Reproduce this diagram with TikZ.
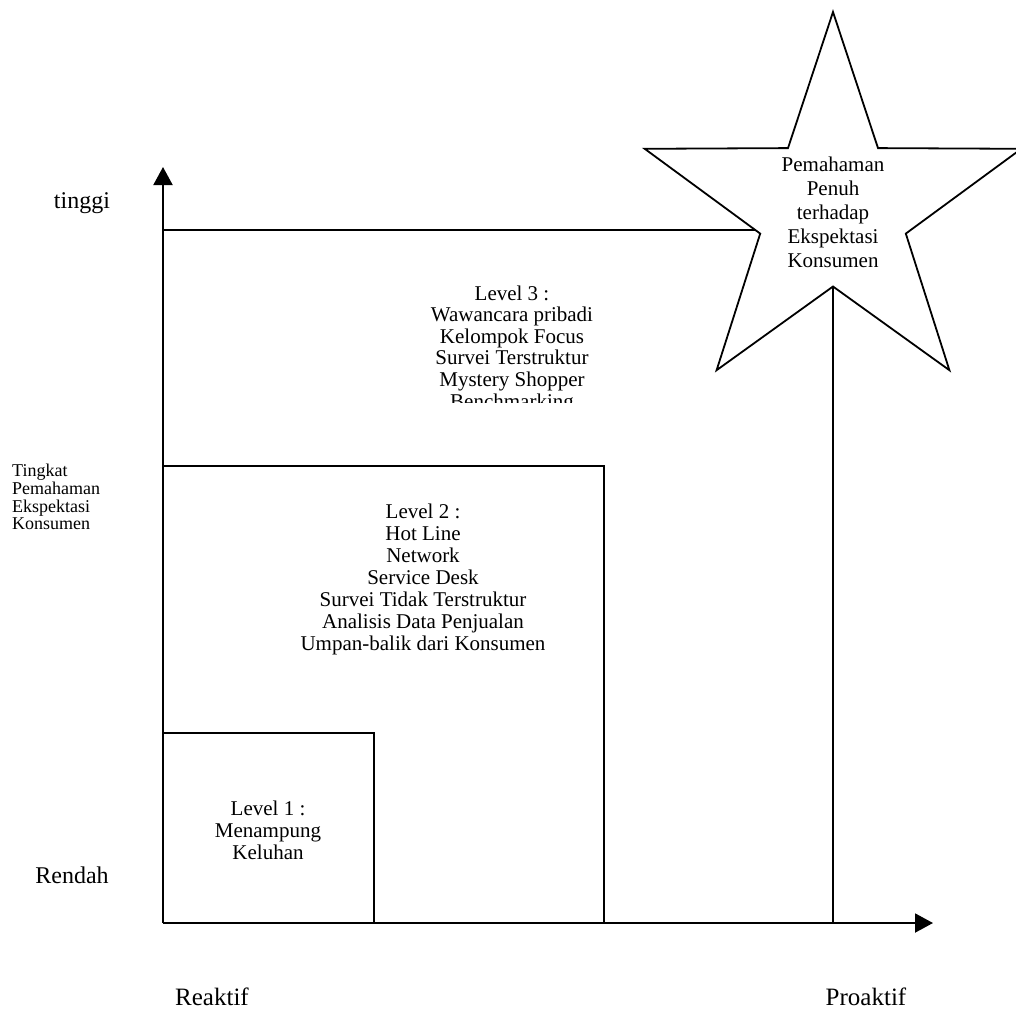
\documentclass[tikz,border=0pt]{standalone}
\usepackage{fontspec}
\setmainfont{Liberation Serif}
\usetikzlibrary{arrows.meta}
\begin{document}
\begin{tikzpicture}[x=1pt,y=-1pt,
  frame/.style={line width=1.8pt},
  axisline/.style={line width=2pt,-{Triangle[length=18pt,width=19pt]}},
  boxtext/.style={align=center,inner sep=0pt,font=\fontsize{21}{22}\selectfont},
  sidetext/.style={inner sep=0pt,font=\fontsize{25}{28}\selectfont}]
\useasboundingbox (0,0) rectangle (1016,1012);

% axes
\coordinate (origin) at (163,923);
\coordinate (ytip) at (163,167);
\coordinate (xtip) at (933,923);
\draw[axisline] (origin) -- (ytip);
\draw[axisline] (origin) -- (xtip);

% star (outer o1..o5, inner i1..i5)
\coordinate (o1) at (833,12);
\coordinate (i1) at (878.0,148.1);
\coordinate (o2) at (1021.3,148.8);
\coordinate (i2) at (905.8,233.6);
\coordinate (o3) at (949.4,370.2);
\coordinate (i3) at (833,286.5);
\coordinate (o4) at (716.6,370.2);
\coordinate (i4) at (760.2,233.6);
\coordinate (o5) at (644.7,148.8);
\coordinate (i5) at (788.0,148.1);
\draw[frame,line join=miter] (o1) -- (i1) -- (o2) -- (i2) -- (o3) -- (i3)
  -- (o4) -- (i4) -- (o5) -- (i5) -- cycle;

% level 1 and level 2 boxes
\coordinate (l1top) at (163,733);
\coordinate (l1corner) at (374,733);
\coordinate (l1foot) at (374,923);
\draw[frame] (l1top) -- (l1corner) -- (l1foot);
\coordinate (l2top) at (163,466);
\coordinate (l2corner) at (604,466);
\coordinate (l2foot) at (604,923);
\draw[frame] (l2top) -- (l2corner) -- (l2foot);

% level 3 boundary: up to the star
\coordinate (l3top) at (163,230);
\coordinate (l3edge) at (intersection of o5--i4 and l3top--{(900,230)});
\coordinate (l3foot) at (833,923);
\draw[frame] (l3top) -- (l3edge);
\draw[frame] (i3) -- (l3foot);

% texts
\node[boxtext,font=\fontsize{21}{24}\selectfont] (startext) at (833,212)
  {Pemahaman\\Penuh\\terhadap\\Ekspektasi\\Konsumen};

\begin{scope}
\clip (170,240) rectangle (820,402);
\node[boxtext,font=\fontsize{21}{21.6}\selectfont] (lvl3) at (512,349)
  {Level 3 :\\Wawancara pribadi\\Kelompok Focus\\Survei Terstruktur\\Mystery Shopper\\Benchmarking};
\end{scope}

\node[boxtext] (lvl2) at (423,579)
  {Level 2 :\\Hot Line\\Network\\Service Desk\\Survei Tidak Terstruktur\\Analisis Data Penjualan\\Umpan-balik dari Konsumen};

\node[boxtext] (lvl1) at (268,830) {Level 1 :\\Menampung\\Keluhan};

\node[sidetext,font=\fontsize{24}{26}\selectfont] (high) at (82,203) {tinggi};
\node[inner sep=0pt,align=left,anchor=west,font=\fontsize{18}{17.7}\selectfont] (ylabel) at (12,497)
  {Tingkat\\Pemahaman\\Ekspektasi\\Konsumen};
\node[sidetext,font=\fontsize{24}{26}\selectfont] (low) at (72,875) {Rendah};
\node[sidetext] (left) at (212,997) {Reaktif};
\node[sidetext] (right) at (866,997) {Proaktif};
\end{tikzpicture}
\end{document}
